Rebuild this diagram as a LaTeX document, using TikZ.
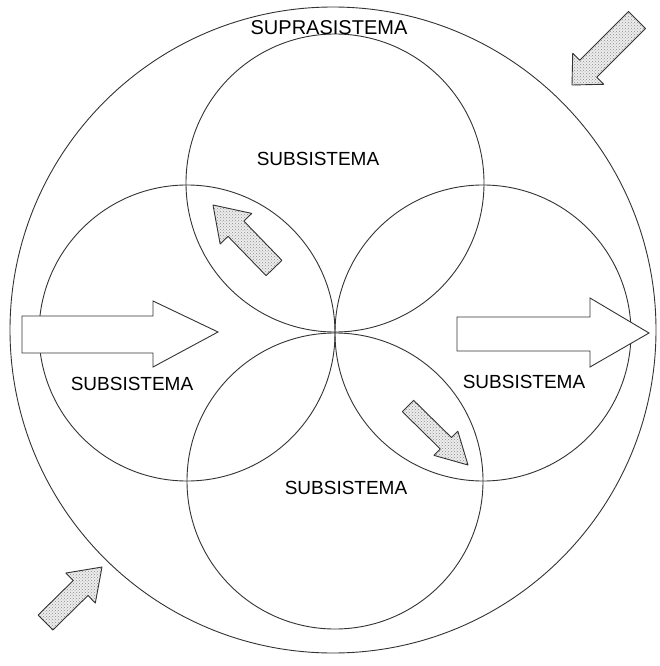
\documentclass[tikz,border=0pt]{standalone}
\usepackage{fontspec}
\setmainfont{Liberation Sans}
\usetikzlibrary{calc,patterns}
\tikzset{
  ring/.style={draw=black!80, line width=0.9pt},
  outlinearrow/.style={draw=black!80, line width=0.9pt, fill=white, line join=miter},
  stiparrow/.style={draw=black!80, line width=0.9pt, line join=round,
     preaction={fill=black!7}, pattern=crosshatch dots, pattern color=black!45},
  lbl/.style={font=\fontsize{19}{19}\selectfont, text=black, inner sep=0pt}
}
% #1 tail, #2 tip, #3 shaft half-width, #4 head half-width, #5 head length (all in pt)
\newcommand{\fatarrow}[5]{%
  \coordinate (ta) at #1; \coordinate (tp) at #2;
  \coordinate (hb) at ($(tp)!#5pt!(ta)$);
  \draw[stiparrow] ($(ta)!#3pt!90:(tp)$) -- ($(hb)!#3pt!90:(tp)$) -- ($(hb)!#4pt!90:(tp)$)
     -- (tp) -- ($(hb)!#4pt!-90:(tp)$) -- ($(hb)!#3pt!-90:(tp)$) -- ($(ta)!#3pt!-90:(tp)$) -- cycle;
}
\begin{document}
\begin{tikzpicture}[x=1pt,y=-1pt]
\useasboundingbox (0,0) rectangle (660,666);
% suprasystem
\draw[ring] (333,330) circle (323);
% subsystems
\draw[ring] (335,183) circle (149);
\draw[ring] (335,481) circle (148);
\draw[ring] (187,333) circle (148);
\draw[ring] (483,333) circle (148);
% outline arrows
\draw[outlinearrow] (22,316) -- (153,316) -- (153,301) -- (218,332) -- (153,367) -- (153,353) -- (22,353) -- cycle;
\draw[outlinearrow] (457,317) -- (590,317) -- (590,298) -- (649,333) -- (590,367) -- (590,351) -- (457,351) -- cycle;
% stippled arrows
\fatarrow{(274,268)}{(213,205)}{11}{22}{33}
\fatarrow{(408,406)}{(468,465)}{8}{17}{31}
\fatarrow{(637,20)}{(572,85)}{12}{22}{23}
\fatarrow{(45.5,622.5)}{(102,567)}{10.5}{21}{30}
% labels
\node[lbl, font=\fontsize{20}{20}\selectfont] (supra) at (329,28) {SUPRASISTEMA};
\node[lbl] (stop) at (318,159) {SUBSISTEMA};
\node[lbl] (sleft) at (132,384) {SUBSISTEMA};
\node[lbl] (sright) at (524,382) {SUBSISTEMA};
\node[lbl] (sbottom) at (346,488) {SUBSISTEMA};
\end{tikzpicture}
\end{document}
